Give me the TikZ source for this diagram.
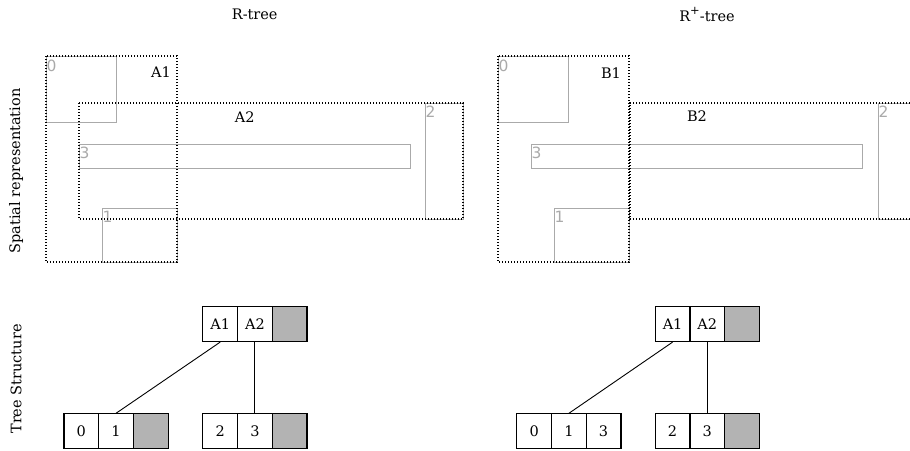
\documentclass[tikz,border=0pt]{standalone}
\usepackage{fontspec}
\setmainfont{DejaVu Serif}
\newfontfamily\digitfont{DejaVu Sans}
\definecolor{rectgrey}{HTML}{AAAAAA}
\definecolor{cellgrey}{HTML}{B3B3B3}
\begin{document}
\begin{tikzpicture}[x=1pt,y=-1pt,
  every node/.style={font=\fontsize{14.5}{17}\selectfont},
  mbr/.style={line width=1.2pt, dash pattern=on 1.2pt off 1.8pt},
  obj/.style={draw=rectgrey, line width=1pt},
  objlabel/.style={text=rectgrey, font=\digitfont\fontsize{15.5}{18}\selectfont, anchor=base west, inner sep=0pt},
  cell/.style={draw, line width=1.1pt, minimum width=34.7pt, minimum height=34.7pt, inner sep=0pt},
  emptycell/.style={cell, fill=cellgrey},
  link/.style={line width=0.9pt}]
\useasboundingbox (0,0) rectangle (910,450);

% titles and side labels
\node (tR) at (254.7,14.5) {R-tree};
\node (tRp) at (707,14.5) {R\raisebox{0.42em}{\fontsize{11.5}{12}\selectfont +}-tree};
\node[rotate=90] (sideS) at (16,171) {Spatial representation};
\node[rotate=90] (sideT) at (16,379) {Tree Structure};

% ---------- left: R-tree spatial ----------
\draw[obj] (46,56) rectangle (116,122);
\draw[obj] (79,144) rectangle (410,168);
\draw[obj] (425,103) rectangle (463,219);
\draw[obj] (102,208) rectangle (177,262);
\node[objlabel] (l0) at (46.5,71) {0};
\node[objlabel] (l3) at (79.5,158.5) {3};
\node[objlabel] (l2) at (425.5,117.0) {2};
\node[objlabel] (l1) at (102.5,222.0) {1};
\draw[mbr] (46,56) rectangle (177,262);
\draw[mbr] (79,103) rectangle (463,219);
\node (lA1) at (161,72.5) {A1};
\node (lA2) at (244.7,117) {A2};

% ---------- right: R+-tree spatial ----------
\draw[obj] (498,56) rectangle (568,122);
\draw[obj] (531,144) rectangle (862,168);
\draw[obj] (910,103) -- (878,103) -- (878,219) -- (910,219);
\draw[obj] (554,208) rectangle (629,262);
\node[objlabel] (r0) at (498.5,71) {0};
\node[objlabel] (r3) at (531.5,158.5) {3};
\node[objlabel] (r2) at (878.5,117.0) {2};
\node[objlabel] (r1) at (554.5,222.0) {1};
\draw[mbr] (498,56) rectangle (629,262);
\draw[mbr] (910,103) -- (630,103) -- (630,219) -- (910,219);
\node (rB1) at (611,73) {B1};
\node (rB2) at (697,116) {B2};

% ---------- left tree ----------
\node[cell] (ta1) at (220.2,324.2) {A1};
\node[cell] (ta2) at (254.9,324.2) {A2};
\node[emptycell] (ta3) at (289.6,324.2) {};
\node[cell] (tb0) at (81.3,431.2) {0};
\node[cell] (tb1) at (116.0,431.2) {1};
\node[emptycell] (tbx) at (150.7,431.2) {};
\node[cell] (tc2) at (220.2,431.2) {2};
\node[cell] (tc3) at (254.9,431.2) {3};
\node[emptycell] (tcx) at (289.6,431.2) {};
\draw[link] (ta1.south) -- (tb1.north);
\draw[link] (ta2.south) -- (tc3.north);

% ---------- right tree ----------
\node[cell] (ua1) at (672.6,324.2) {A1};
\node[cell] (ua2) at (707.3,324.2) {A2};
\node[emptycell] (ua3) at (742.0,324.2) {};
\node[cell] (ub0) at (534.2,431.2) {0};
\node[cell] (ub1) at (568.9,431.2) {1};
\node[cell] (ub3) at (603.6,431.2) {3};
\node[cell] (uc2) at (672.6,431.2) {2};
\node[cell] (uc3) at (707.3,431.2) {3};
\node[emptycell] (ucx) at (742.0,431.2) {};
\draw[link] (ua1.south) -- (ub1.north);
\draw[link] (ua2.south) -- (uc3.north);
\end{tikzpicture}
\end{document}
